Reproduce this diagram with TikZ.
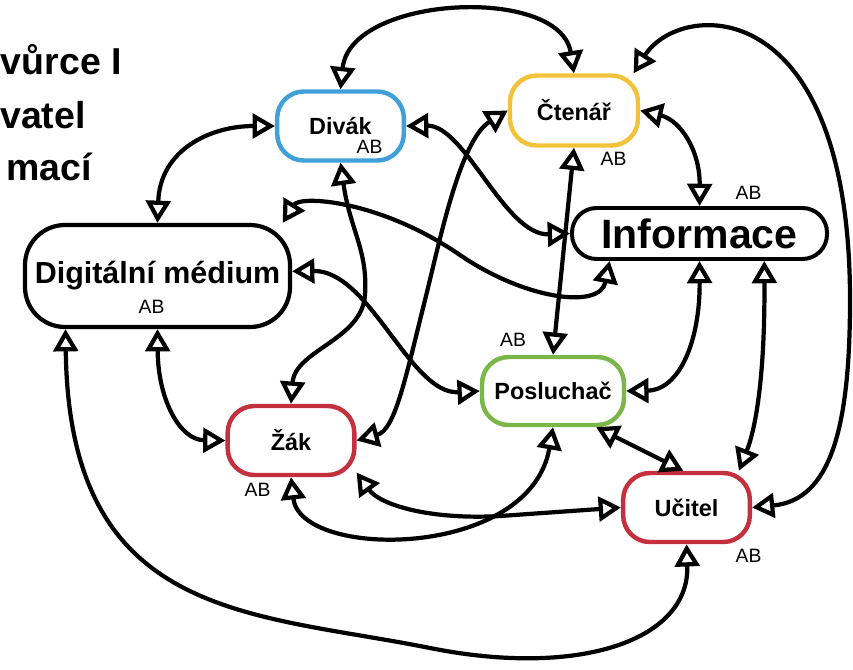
\documentclass[tikz,border=0pt]{standalone}
\usepackage{fontspec}
\setmainfont{Liberation Sans}
\usetikzlibrary{arrows.meta,positioning}
\definecolor{divakblue}{RGB}{64,160,216}
\definecolor{ctenaryellow}{RGB}{242,194,58}
\definecolor{posluchacgreen}{RGB}{122,182,72}
\definecolor{zakred}{RGB}{197,48,63}

\begin{document}
\begin{tikzpicture}[x=0.03cm, y=-0.03cm,
        >={Triangle[length=19pt,width=21pt,fill=white]},
        role/.style={draw, line width=3.8pt, rounded corners=0.8cm, inner sep=0pt,
            minimum width=3.8cm, minimum height=2.07cm,
            font=\fontsize{20pt}{24pt}\selectfont\bfseries},
        ab/.style={inner sep=0pt, font=\fontsize{16.5pt}{19pt}\selectfont},
        link/.style={<->, line width=3.6pt},
        title/.style={inner sep=0pt, font=\fontsize{32pt}{38pt}\selectfont\bfseries}]
            \useasboundingbox (0,0) rectangle (853,669);
            \clip (0,0) rectangle (853,669);

            \node[title, anchor=base east] (t1) at (122,74) {vůrce I};
            \node[title, anchor=base west] (t2) at (0,128) {vatel};
            \node[title, anchor=base east] (t3) at (92,180) {mací};

            \node[role, divakblue] (divak) at (340.5,126) {\color{black}Divák};
            \node[role, ctenaryellow, minimum width=3.84cm, minimum height=2.1cm] (ctenar) at (574,110.5) {\color{black}Čtenář};
            \node[role, posluchacgreen, minimum width=4.26cm, minimum height=2.04cm] (posluchac) at (553,391) {\color{black}Posluchač};
            \node[role, zakred] (zak) at (291,440.5) {\color{black}Žák};
            \node[role, zakred] (ucitel) at (686.5,507.5) {\color{black}Učitel};
            \node[role, line width=3.4pt, rounded corners=0.74cm, minimum width=7.65cm, minimum height=1.53cm,
                font=\fontsize{35pt}{42pt}\selectfont\bfseries] (informace) at (699.5,233.5) {Informace};
            \node[role, line width=3.6pt, rounded corners=1.2cm, minimum width=7.95cm, minimum height=3.06cm,
                font=\fontsize{26pt}{31pt}\selectfont\bfseries] (dm) at (157.5,276) {Digitální médium};

            \node[ab] (divak-ab) at (369.5,147) {AB};
            \node[ab] (ctenar-ab) at (613.5,159) {AB};
            \node[ab] (informace-ab) at (748.5,192.5) {AB};
            \node[ab] (dm-ab) at (151.5,306.5) {AB};
            \node[ab] (posluchac-ab) at (513,340) {AB};
            \node[ab] (zak-ab) at (257.5,489.5) {AB};
            \node[ab] (ucitel-ab) at (748.5,555.5) {AB};

            \draw[link] (divak.north) .. controls (350,-5) and (560,-15) .. (ctenar.north);
            \draw[link] (dm.north) .. controls (160,150) and (210,126) .. (divak.west);
            \draw[link] (divak.east) .. controls (465,125) and (505,236) .. (informace.west);
            \draw[link] (divak.south) .. controls (350,230) and (368,250) .. (365,295)
                .. controls (362,340) and (295,350) .. (zak.north);
            \draw[link] (ctenar.west) .. controls (460,140) and (440,240) .. (425,300)
                .. controls (405,380) and (395,430) .. (zak.east);
            \draw[link] (ctenar.south) -- (posluchac.north);
            \draw[link] (ctenar.east) .. controls (680,120) and (700,150) .. (informace.north);
            \draw[link] (ctenar.32) .. controls (680,0) and (850,-10) .. (850,300)
                .. controls (850,430) and (830,500) .. (ucitel.east);
            \draw[link] (dm.23) .. controls (300,195) and (380,200) .. (460,255)
                .. controls (524,299) and (600,310) .. (informace.197);
            \draw[link] (dm.2) .. controls (370,270) and (410,395) .. (posluchac.west);
            \draw[link] (dm.south) .. controls (158,400) and (180,440) .. (zak.west);
            \draw[link] (dm.210) .. controls (69,620) and (250,612) .. (430,648)
                .. controls (580,678) and (690,640) .. (ucitel.south);
            \draw[link] (informace.south) .. controls (700,340) and (680,390) .. (posluchac.east);
            \draw[link] (informace.-23) .. controls (765,380) and (755,430) .. (ucitel.35);
            \draw[link] (posluchac.-40) -- (ucitel.95);
            \draw[link] (zak.-26) .. controls (380,505) and (430,520) .. (500,516) -- (ucitel.west);
            \draw[link] (zak.south) .. controls (300,560) and (530,560) .. (posluchac.south);
        \end{tikzpicture}
\end{document}
